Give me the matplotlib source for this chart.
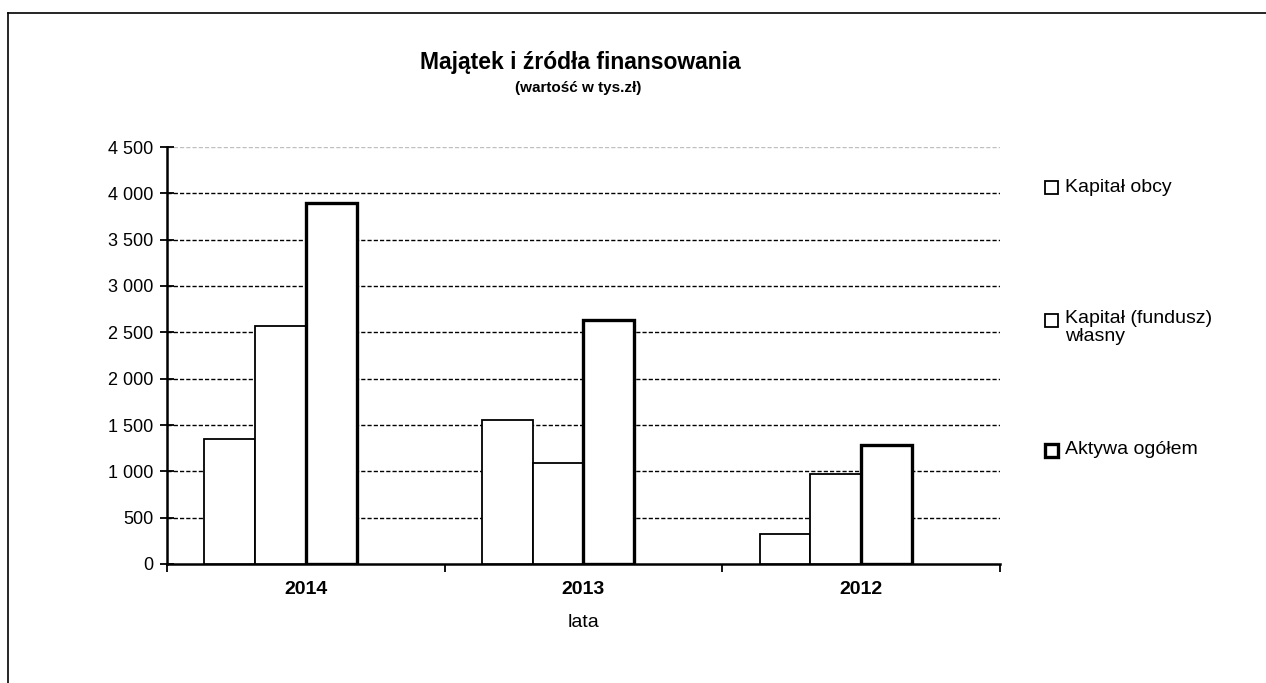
import matplotlib.pyplot as plt
import numpy as np
from matplotlib.patches import Rectangle
from matplotlib.lines import Line2D
from matplotlib.ticker import FuncFormatter, MultipleLocator

plt.rcParams['font.family'] = ['Liberation Sans', 'DejaVu Sans']

years = ['2014', '2013', '2012']
kapital_obcy = [1345, 1550, 325]
kapital_wlasny = [2570, 1095, 975]
aktywa_ogolem = [3895, 2635, 1280]
series_labels = ['Kapitał obcy', 'Kapitał (fundusz)\nwłasny', 'Aktywa ogółem']
y_ticks = np.arange(0, 4501, 500)

fig = plt.figure(figsize=(12.66, 6.83), dpi=100)
ax = fig.add_axes([167 / 1266, 1 - 564 / 683, 833 / 1266, 417 / 683])

x = np.arange(len(years))
w = 0.183
series = [kapital_obcy, kapital_wlasny, aktywa_ogolem]
offsets = [-1.5 * w, -0.5 * w, 0.5 * w]
widths = [1.3, 1.3, 2.4]
for vals, off, lw in zip(series, offsets, widths):
    ax.bar(x + off, vals, width=w, align='center', facecolor='white',
           edgecolor='black', linewidth=lw, zorder=3)

ax.set_xlim(-0.5, 2.5)
ax.set_ylim(0, 4500)
ax.yaxis.set_major_locator(MultipleLocator(500))
ax.yaxis.set_major_formatter(FuncFormatter(
    lambda v, p: '{:,.0f}'.format(v).replace(',', ' ')))

# dashed grid, top line faint as on the scan
for v in y_ticks[1:]:
    ax.axhline(v, color='black', linewidth=1.0, linestyle=(0, (3, 1.5)),
               alpha=0.25 if v == 4500 else 1.0, zorder=1)

ax.set_xticks(x)
ax.set_xticklabels(years, fontsize=14, fontweight='bold')
ax.set_xticks([-0.5, 0.5, 1.5, 2.5], minor=True)
ax.tick_params(axis='x', which='major', length=0, pad=12)
ax.tick_params(axis='x', which='minor', length=6, width=1.3, direction='out')
ax.tick_params(axis='y', which='major', length=10, width=1.3, direction='inout',
               labelsize=13, pad=5)
ax.set_xlabel('lata', fontsize=14, labelpad=12)

for s in ['top', 'right']:
    ax.spines[s].set_visible(False)
for s in ['left', 'bottom']:
    ax.spines[s].set_linewidth(1.8)

fig.text(580 / 1266, 1 - 62 / 683, 'Majątek i źródła finansowania',
         ha='center', va='center', fontsize=16.5, fontweight='bold')
fig.text(578 / 1266, 1 - 88 / 683, '(wartość w tys.zł)',
         ha='center', va='center', fontsize=11, fontweight='bold')

# legend
leg_y = [187, 320, 450]
leg_lw = [1.3, 1.3, 2.4]
for yy, lab, lw in zip(leg_y, series_labels, leg_lw):
    fig.patches.append(Rectangle((1045 / 1266, 1 - (yy + 7) / 683), 13 / 1266, 13 / 683,
                                 transform=fig.transFigure, facecolor='white',
                                 edgecolor='black', linewidth=lw))
    if '\n' in lab:
        fig.text(1065 / 1266, 1 - (yy - 10) / 683, lab, ha='left', va='top',
                 fontsize=14, linespacing=1.1)
    else:
        fig.text(1065 / 1266, 1 - yy / 683, lab, ha='left', va='center', fontsize=14)

# frame of the scanned chart area
fig.lines.append(Line2D([8 / 1266, 8 / 1266], [0, 1 - 13 / 683], transform=fig.transFigure,
                        color='black', linewidth=1.2))
fig.lines.append(Line2D([8 / 1266, 1], [1 - 13 / 683, 1 - 13 / 683], transform=fig.transFigure,
                        color='black', linewidth=1.2))

fig.savefig('out.png', dpi=100)
